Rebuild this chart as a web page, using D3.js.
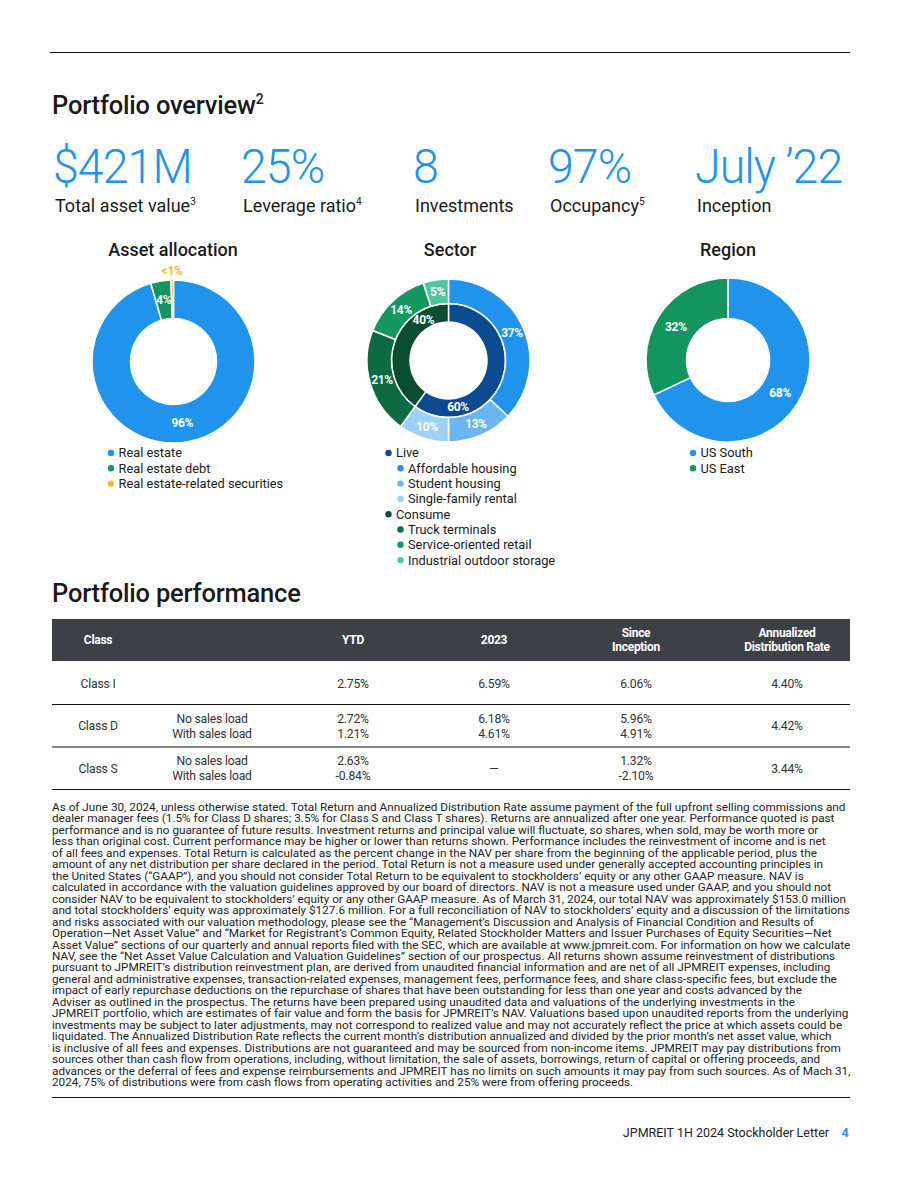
<!DOCTYPE html>
<html><head><meta charset="utf-8">
<script src="https://cdn.jsdelivr.net/npm/d3@7"></script>
<style>
html,body{margin:0;padding:0;background:#fff;}
svg{display:block;font-family:Roboto,"Noto Sans",sans-serif;}
</style></head>
<body>
<script>
// ---------- DATA ----------
const kpiValues = ["$421M", "25%", "8", "97%", "July \u201922"];
const kpiLabels = ["Total asset value", "Leverage ratio", "Investments", "Occupancy", "Inception"];
const kpiNotes = ["3", "4", "", "5", ""];

const assetCategories = ["Real estate", "Real estate debt", "Real estate-related securities"];
const assetValues = [95.5, 4, 0.5];
const assetLabels = ["96%", "4%", "<1%"];

const sectorGroups = ["Live", "Consume"];
const sectorGroupValues = [60, 40];
const sectorCategories = ["Affordable housing", "Student housing", "Single-family rental", "Truck terminals", "Service-oriented retail", "Industrial outdoor storage"];
const sectorParents = ["Live", "Live", "Live", "Consume", "Consume", "Consume"];
const sectorValues = [37, 13, 10, 21, 14, 5];

const regionCategories = ["US South", "US East"];
const regionValues = [68, 32];

const perfHeaders = [["Class"], [""], ["YTD"], ["2023"], ["Since", "Inception"], ["Annualized", "Distribution Rate"]];
const perfClasses = ["Class I", "Class D", "Class S"];
const perfLoads = [[""], ["No sales load", "With sales load"], ["No sales load", "With sales load"]];
const perfYTD = [["2.75%"], ["2.72%", "1.21%"], ["2.63%", "-0.84%"]];
const perf2023 = [["6.59%"], ["6.18%", "4.61%"], ["\u2014"]];
const perfSince = [["6.06%"], ["5.96%", "4.91%"], ["1.32%", "-2.10%"]];
const perfDist = [["4.40%"], ["4.42%"], ["3.44%"]];

const footnoteLines = [
"As of June 30, 2024, unless otherwise stated. Total Return and Annualized Distribution Rate assume payment of the full upfront selling commissions and",
"dealer manager fees (1.5% for Class D shares; 3.5% for Class S and Class T shares). Returns are annualized after one year. Performance quoted is past",
"performance and is no guarantee of future results. Investment returns and principal value will fluctuate, so shares, when sold, may be worth more or",
"less than original cost. Current performance may be higher or lower than returns shown. Performance includes the reinvestment of income and is net",
"of all fees and expenses. Total Return is calculated as the percent change in the NAV per share from the beginning of the applicable period, plus the",
"amount of any net distribution per share declared in the period. Total Return is not a measure used under generally accepted accounting principles in",
"the United States (\u201CGAAP\u201D), and you should not consider Total Return to be equivalent to stockholders\u2019 equity or any other GAAP measure. NAV is",
"calculated in accordance with the valuation guidelines approved by our board of directors. NAV is not a measure used under GAAP, and you should not",
"consider NAV to be equivalent to stockholders\u2019 equity or any other GAAP measure. As of March 31, 2024, our total NAV was approximately $153.0 million",
"and total stockholders\u2019 equity was approximately $127.6 million. For a full reconciliation of NAV to stockholders\u2019 equity and a discussion of the limitations",
"and risks associated with our valuation methodology, please see the \u201CManagement\u2019s Discussion and Analysis of Financial Condition and Results of",
"Operation\u2014Net Asset Value\u201D and \u201CMarket for Registrant\u2019s Common Equity, Related Stockholder Matters and Issuer Purchases of Equity Securities\u2014Net",
"Asset Value\u201D sections of our quarterly and annual reports filed with the SEC, which are available at www.jpmreit.com. For information on how we calculate",
"NAV, see the \u201CNet Asset Value Calculation and Valuation Guidelines\u201D section of our prospectus. All returns shown assume reinvestment of distributions",
"pursuant to JPMREIT\u2019s distribution reinvestment plan, are derived from unaudited financial information and are net of all JPMREIT expenses, including",
"general and administrative expenses, transaction-related expenses, management fees, performance fees, and share class-specific fees, but exclude the",
"impact of early repurchase deductions on the repurchase of shares that have been outstanding for less than one year and costs advanced by the",
"Adviser as outlined in the prospectus. The returns have been prepared using unaudited data and valuations of the underlying investments in the",
"JPMREIT portfolio, which are estimates of fair value and form the basis for JPMREIT\u2019s NAV. Valuations based upon unaudited reports from the underlying",
"investments may be subject to later adjustments, may not correspond to realized value and may not accurately reflect the price at which assets could be",
"liquidated. The Annualized Distribution Rate reflects the current month\u2019s distribution annualized and divided by the prior month\u2019s net asset value, which",
"is inclusive of all fees and expenses. Distributions are not guaranteed and may be sourced from non-income items. JPMREIT may pay distributions from",
"sources other than cash flow from operations, including, without limitation, the sale of assets, borrowings, return of capital or offering proceeds, and",
"advances or the deferral of fees and expense reimbursements and JPMREIT has no limits on such amounts it may pay from such sources. As of Mach 31,",
"2024, 75% of distributions were from cash flows from operating activities and 25% were from offering proceeds."
];

// ---------- STYLE ----------
const BLUE = "#2094ec";
const assetColors = ["#2094ec", "#13955f", "#f7b733"];
const sectorGroupColors = ["#0c4a92", "#0b4d33"];
const sectorColors = ["#2094ec", "#6cb5f3", "#9fd0f8", "#0c6b43", "#14985f", "#4fc6a2"];
const regionColors = ["#2094ec", "#13955f"];
const TXT = "#1a1a1a";

const W = 903, H = 1177;
const svg = d3.select("body").append("svg").attr("width", W).attr("height", H);
svg.append("rect").attr("width", W).attr("height", H).attr("fill", "#fff");

// top rule
svg.append("line").attr("x1", 50).attr("x2", 850).attr("y1", 52.5).attr("y2", 52.5).attr("stroke", "#111").attr("stroke-width", 1.2);

function heading(txt, sup, x, y) {
  const t = svg.append("text").attr("x", x).attr("y", y).attr("font-size", 25.5).attr("font-weight", 500)
    .attr("fill", TXT).attr("letter-spacing", -0.2).text(txt);
  if (sup) t.append("tspan").attr("dy", -10).attr("font-size", 14).text(sup);
}
heading("Portfolio overview", "2", 52, 114);
heading("Portfolio performance", "", 52, 602);

// KPIs
const kpiX = [55, 243, 415, 550, 697];
kpiValues.forEach((v, i) => {
  svg.append("text").attr("transform", `translate(${kpiX[i] - 2},183) scale(0.97,1)`)
    .attr("font-size", 48).attr("font-weight", 300).attr("fill", BLUE).attr("letter-spacing", -1).text(v);
  const t = svg.append("text").attr("transform", `translate(${kpiX[i]},212)`)
    .attr("font-size", 18).attr("fill", TXT).text(kpiLabels[i]);
  if (kpiNotes[i]) t.append("tspan").attr("dy", -7).attr("font-size", 10).text(kpiNotes[i]);
});

// ---------- DONUTS ----------
function title(txt, cx) {
  svg.append("text").attr("x", cx).attr("y", 256).attr("text-anchor", "middle").attr("font-size", 18)
    .attr("font-weight", 500).attr("fill", TXT).text(txt);
}
const pie = d3.pie().sort(null).value(d => d);

function donut(cx, cy, rIn, rOut, values, colors) {
  const g = svg.append("g").attr("transform", `translate(${cx},${cy})`);
  const arcs = pie(values);
  const arc = d3.arc().innerRadius(rIn).outerRadius(rOut);
  g.selectAll("path").data(arcs).join("path").attr("d", arc)
    .attr("fill", (d, i) => colors[i]).attr("stroke", "#fff").attr("stroke-width", 1.5);
  return { g, arcs, arc };
}
function label(g, pos, txt, fill) {
  g.append("text").attr("x", pos[0]).attr("y", pos[1]).attr("dy", "0.35em").attr("text-anchor", "middle")
    .attr("font-size", 12).attr("font-weight", 700).attr("fill", fill || "#fff").attr("letter-spacing", -0.3).text(txt);
}
function legend(x, y, items, colors, indents) {
  items.forEach((t, i) => {
    const ind = indents ? indents[i] : 0;
    const yy = y + i * 15.3;
    svg.append("circle").attr("cx", x + ind).attr("cy", yy).attr("r", 3.2).attr("fill", colors[i]);
    svg.append("text").attr("x", x + ind + 7.5).attr("y", yy).attr("dy", "0.35em").attr("font-size", 12.8)
      .attr("fill", TXT).text(t);
  });
}

// Asset allocation
title("Asset allocation", 173);
{
  const d = donut(173.5, 361.5, 43, 81.5, assetValues, assetColors);
  d.arcs.forEach((a, i) => {
    if (i < 2) label(d.g, d.arc.centroid(a), assetLabels[i]);
    else {
      const outer = d3.arc().innerRadius(91).outerRadius(91);
      label(d.g, outer.centroid(a), assetLabels[i], assetColors[2]);
    }
  });
  legend(111, 453, assetCategories, assetColors);
}

// Sector
title("Sector", 450);
{
  const cx = 448.5, cy = 360.5;
  const inner = donut(cx, cy, 38.5, 57, sectorGroupValues, sectorGroupColors);
  const outer = donut(cx, cy, 57, 81.5, sectorValues, sectorColors);
  outer.arcs.forEach(a => label(outer.g, outer.arc.centroid(a), a.value + "%"));
  const rMid = (38.5 + 57) / 2;
  inner.arcs.forEach(a => {
    const ang = a.startAngle + 0.78 * (a.endAngle - a.startAngle);
    label(inner.g, [rMid * Math.sin(ang), -rMid * Math.cos(ang)], a.value + "%");
  });
  const items = [], cols = [], ind = [];
  sectorGroups.forEach((grp, gi) => {
    items.push(grp); cols.push(sectorGroupColors[gi]); ind.push(0);
    sectorCategories.forEach((c, ci) => {
      if (sectorParents[ci] === grp) { items.push(c); cols.push(sectorColors[ci]); ind.push(12); }
    });
  });
  legend(388.5, 453, items, cols, ind);
}

// Region
title("Region", 728);
{
  const d = donut(728, 360, 41.5, 82, regionValues, regionColors);
  d.arcs.forEach(a => label(d.g, d.arc.centroid(a), a.value + "%"));
  legend(693, 453, regionCategories, regionColors);
}

// ---------- TABLE ----------
const tx0 = 52, tx1 = 850;
const colCenters = [98, 212, 353, 494, 636, 787];
svg.append("rect").attr("x", tx0).attr("y", 619).attr("width", tx1 - tx0).attr("height", 42).attr("fill", "#3d4145");
perfHeaders.forEach((lines, i) => {
  lines.forEach((l, j) => {
    svg.append("text").attr("x", colCenters[i]).attr("y", 640 + (j - (lines.length - 1) / 2) * 14).attr("dy", "0.35em")
      .attr("text-anchor", "middle").attr("font-size", 12).attr("font-weight", 700).attr("fill", "#fff")
      .attr("letter-spacing", -0.3).text(l);
  });
});
const rowCenters = [683.5, 726, 768.5];
const rowLines = [704.5, 747, 789.5];
perfClasses.forEach((c, r) => {
  const cols = [[c], perfLoads[r], perfYTD[r], perf2023[r], perfSince[r], perfDist[r]];
  cols.forEach((lines, i) => {
    lines.forEach((l, j) => {
      svg.append("text").attr("x", colCenters[i]).attr("y", rowCenters[r] + (j - (lines.length - 1) / 2) * 15).attr("dy", "0.35em")
        .attr("text-anchor", "middle").attr("font-size", 12.2).attr("fill", "#333").attr("letter-spacing", -0.2).text(l);
    });
  });
  svg.append("line").attr("x1", tx0).attr("x2", tx1).attr("y1", rowLines[r]).attr("y2", rowLines[r]).attr("stroke", "#111").attr("stroke-width", 1.2);
});

// ---------- FOOTNOTE ----------
const fg = svg.append("g");
const ft = fg.selectAll("text").data(footnoteLines).join("text")
  .attr("x", 0).attr("y", (d, i) => i * 11.46).attr("font-size", 11.2).attr("fill", "#222").text(d => d);
let maxW = 0;
ft.each(function () { maxW = Math.max(maxW, this.getComputedTextLength()); });
fg.attr("transform", `translate(52,811) scale(${798 / maxW},1)`);

svg.append("line").attr("x1", tx0).attr("x2", tx1).attr("y1", 1097.5).attr("y2", 1097.5).attr("stroke", "#111").attr("stroke-width", 1.2);

// footer
svg.append("text").attr("x", 829).attr("y", 1137).attr("text-anchor", "end").attr("font-size", 12.5).attr("fill", "#222")
  .text("JPMREIT 1H 2024 Stockholder Letter");
svg.append("text").attr("x", 845).attr("y", 1137).attr("text-anchor", "middle").attr("font-size", 12.5).attr("font-weight", 700)
  .attr("fill", BLUE).text("4");
</script>
</body></html>
